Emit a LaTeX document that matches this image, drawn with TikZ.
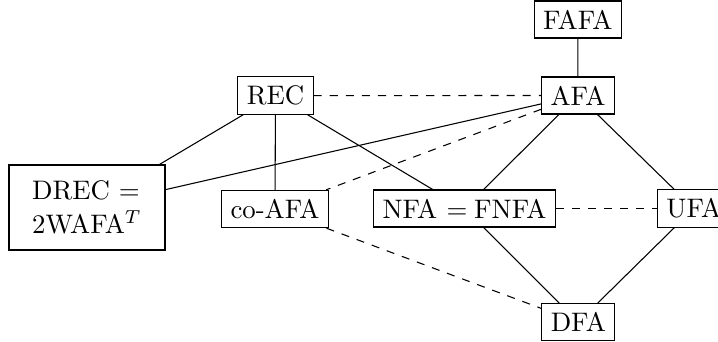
\documentclass[tikz,border=0pt]{standalone}
\begin{document}
\begin{tikzpicture}[x=0.3731pt,y=-0.3731pt,
  box/.style={draw, inner sep=0.3333em}]
\useasboundingbox (0,0) rectangle (718,342);
\node[box] (fafa) at (577.8,19.5) {FAFA};
\node[box] (afa) at (578,95.5) {AFA};
\node[box] (rec) at (275.5,95.6) {REC};
\node[box, align=left, minimum width=58.2pt, minimum height=31.7pt] (drec) at (87,207.5) {DREC =\\[0.7pt] 2WAFA$^T$};
\node[box] (coafa) at (275,209) {co-AFA};
\node[box] (nfa) at (464.5,208.5) {NFA\hspace{3.5pt}=\hspace{2.5pt}FNFA};
\node[box] (ufa) at (693.8,208.5) {UFA};
\node[box] (dfa) at (578.3,322.2) {DFA};
\draw (fafa) -- (afa);
\draw[dashed] (rec) -- (afa);
\draw (rec) -- (drec);
\draw (afa) -- (drec);
\draw (rec) -- (coafa);
\draw (rec) -- (nfa);
\draw[dashed] (afa) -- (coafa);
\draw (afa) -- (nfa);
\draw (afa) -- (ufa);
\draw[dashed] (nfa) -- (ufa);
\draw[dashed] (coafa) -- (dfa);
\draw (nfa) -- (dfa);
\draw (ufa) -- (dfa);
\end{tikzpicture}
\end{document}
